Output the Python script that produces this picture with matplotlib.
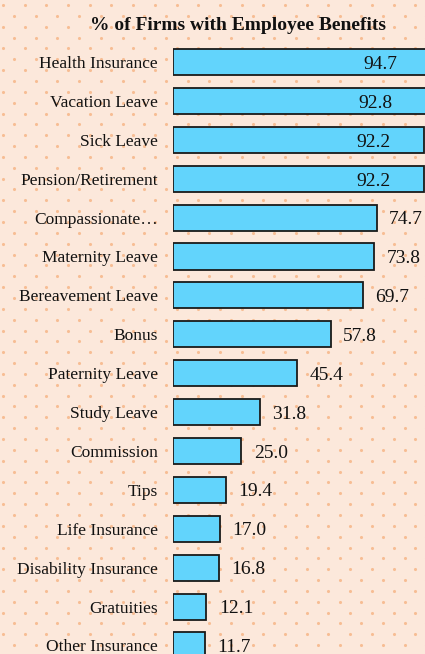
import numpy as np
import matplotlib.pyplot as plt

title = "% of Firms with Employee Benefits"
benefits = [
    "Health Insurance", "Vacation Leave", "Sick Leave", "Pension/Retirement",
    "Compassionate\u2026", "Maternity Leave", "Bereavement Leave", "Bonus",
    "Paternity Leave", "Study Leave", "Commission", "Tips", "Life Insurance",
    "Disability Insurance", "Gratuities", "Other Insurance",
]
percent = [94.7, 92.8, 92.2, 92.2, 74.7, 73.8, 69.7, 57.8,
           45.4, 31.8, 25.0, 19.4, 17.0, 16.8, 12.1, 11.7]

W, H = 425, 654
BG = "#fce8db"
DOT = "#f7bd94"
BAR = "#62d4fc"

plt.rcParams["font.family"] = ["Liberation Serif", "DejaVu Serif"]

fig = plt.figure(figsize=(W / 100, H / 100), dpi=100, facecolor=BG)

# dotted background pattern (staggered grid)
bg = fig.add_axes([0, 0, 1, 1])
bg.set_xlim(0, W)
bg.set_ylim(H, 0)
bg.axis("off")
step = 21.7
xs, ys = [], []
for r, y in enumerate(np.arange(5, H + 10, step / 2)):
    x0 = 3 if r % 2 == 0 else 14
    for x in np.arange(x0, W + 10, step):
        xs.append(x)
        ys.append(y)
bg.scatter(xs, ys, s=5, color=DOT, linewidths=0)

# bar axes: left edge at 173.3 px, rows every 38.9 px starting at y=62
left = 173.3
px_per_unit = 2.723
row0, row_h = 62, 38.9
ax = fig.add_axes([left / W, 0, 1 - left / W, 1])
ax.patch.set_visible(False)
ax.set_xlim(0, (W - left) / px_per_unit)
ax.set_ylim((H - row0) / row_h, -row0 / row_h)

pos = np.arange(len(benefits))
ax.barh(pos, percent, height=0.67, color=BAR, edgecolor="#1a1a1a", linewidth=1.3)

for i, v in enumerate(percent):
    if v > 90:
        ax.annotate(f"{v:.1f}", (v, i), xytext=(-24, -2), textcoords="offset points",
                    ha="right", va="center", fontsize=14, color="#111111",
                    annotation_clip=False)
    else:
        ax.annotate(f"{v:.1f}", (v, i), xytext=(9, -1.5), textcoords="offset points",
                    ha="left", va="center", fontsize=14, color="#111111")

ax.set_yticks(pos)
ax.set_yticklabels(benefits, fontsize=12.5, color="#111111")
ax.tick_params(axis="y", length=0, pad=11)
ax.set_xticks([])
for s in ax.spines.values():
    s.set_visible(False)

fig.text(238.5 / W, 1 - 25 / H, title, ha="center", va="center",
         fontsize=14, fontweight="bold", color="#111111")

fig.savefig("out.png", dpi=100, facecolor=BG)
